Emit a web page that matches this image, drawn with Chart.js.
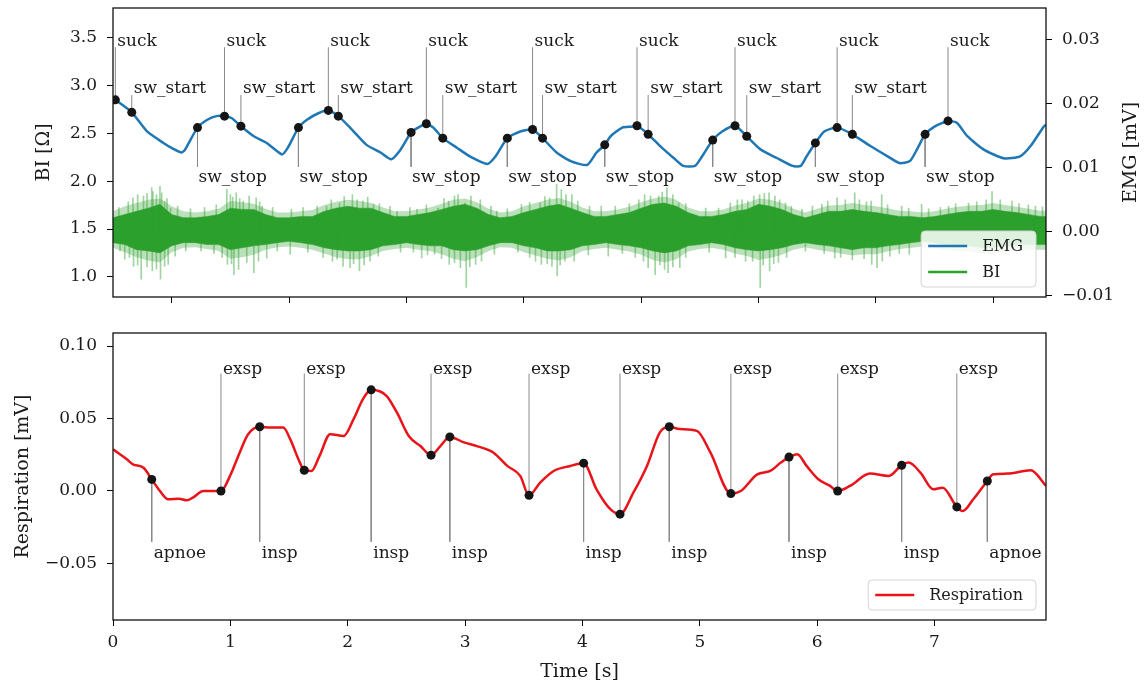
<!DOCTYPE html>
<html>
<head>
<meta charset="utf-8">
<script src="https://cdn.jsdelivr.net/npm/chart.js@4.4.1/dist/chart.umd.min.js"></script>
<style>
  body { margin: 0; background: #fff; }
  #wrap { position: relative; width: 1145px; height: 686px; }
  canvas { position: absolute; left: 0; }
  #topChart { top: 0; }
  #bottomChart { top: 310px; }
</style>
</head>
<body>
<div id="wrap">
  <canvas id="topChart" width="1145" height="310"></canvas>
  <canvas id="bottomChart" width="1145" height="376"></canvas>
</div>
<script>
// ---- values ----
const timeTicks = [0, 1, 2, 3, 4, 5, 6, 7];
const biTicks = [1.0, 1.5, 2.0, 2.5, 3.0, 3.5];
const emgTicks = [-0.01, 0.00, 0.01, 0.02, 0.03];
const respTicks = [-0.05, 0.00, 0.05, 0.10];

// slow blue curve (left axis, Ohm)
const biTime = [0, 0.02, 0.16, 0.29, 0.43, 0.51, 0.585, 0.614, 0.72, 0.80, 0.88, 0.95, 1.01, 1.09, 1.20, 1.31, 1.44, 1.49,
  1.58, 1.65, 1.75, 1.835, 1.92, 2.02, 2.16, 2.28, 2.37, 2.45, 2.54, 2.60, 2.67, 2.73, 2.81, 2.93, 3.04, 3.19, 3.26,
  3.36, 3.47, 3.575, 3.66, 3.78, 3.90, 4.04, 4.12, 4.19, 4.24, 4.34, 4.42, 4.465, 4.56, 4.66, 4.78, 4.86, 4.96, 5.02,
  5.11, 5.19, 5.30, 5.40, 5.52, 5.66, 5.79, 5.86, 5.91, 5.985, 6.06, 6.17, 6.30, 6.45, 6.60, 6.70, 6.79, 6.85, 6.92,
  7.00, 7.115, 7.19, 7.28, 7.42, 7.59, 7.73, 7.82, 7.93, 7.95];
const biValue = [2.87, 2.85, 2.72, 2.52, 2.40, 2.34, 2.30, 2.33, 2.56, 2.64, 2.68, 2.68, 2.66, 2.575, 2.47, 2.40, 2.28, 2.35,
  2.56, 2.64, 2.71, 2.74, 2.68, 2.56, 2.38, 2.30, 2.23, 2.33, 2.51, 2.56, 2.60, 2.56, 2.45, 2.35, 2.26, 2.18, 2.26,
  2.45, 2.52, 2.54, 2.45, 2.30, 2.21, 2.17, 2.30, 2.38, 2.47, 2.56, 2.57, 2.58, 2.49, 2.37, 2.24, 2.16, 2.16, 2.26,
  2.43, 2.52, 2.58, 2.47, 2.33, 2.24, 2.16, 2.16, 2.26, 2.40, 2.52, 2.56, 2.49, 2.37, 2.26, 2.19, 2.21, 2.33, 2.49,
  2.57, 2.63, 2.61, 2.47, 2.33, 2.24, 2.26, 2.37, 2.57, 2.59];

// dense green trace (right axis, mV): envelopes every 0.1 s plus individual spikes
const emgBinTime = [0.0, 0.1, 0.2, 0.3, 0.4, 0.5, 0.6, 0.7, 0.8, 0.9, 1.0, 1.1, 1.2, 1.3, 1.4, 1.5, 1.6, 1.7, 1.8, 1.9,
  2.0, 2.1, 2.2, 2.3, 2.4, 2.5, 2.6, 2.7, 2.8, 2.9, 3.0, 3.1, 3.2, 3.3, 3.4, 3.5, 3.6, 3.7, 3.8, 3.9,
  4.0, 4.1, 4.2, 4.3, 4.4, 4.5, 4.6, 4.7, 4.8, 4.9, 5.0, 5.1, 5.2, 5.3, 5.4, 5.5, 5.6, 5.7, 5.8, 5.9,
  6.0, 6.1, 6.2, 6.3, 6.4, 6.5, 6.6, 6.7, 6.8, 6.9, 7.0, 7.1, 7.2, 7.3, 7.4, 7.5, 7.6, 7.7, 7.8, 7.9, 7.95];
const emgHi = [0.0022, 0.0027, 0.0032, 0.0037, 0.0043, 0.0027, 0.0022, 0.0022, 0.0024, 0.0027,
  0.0037, 0.0035, 0.0035, 0.0027, 0.0022, 0.0022, 0.0024, 0.0024, 0.0032, 0.0037,
  0.0040, 0.0037, 0.0037, 0.0030, 0.0024, 0.0024, 0.0027, 0.0030, 0.0035, 0.0040,
  0.0043, 0.0037, 0.0027, 0.0022, 0.0024, 0.0030, 0.0035, 0.0040, 0.0043, 0.0037,
  0.0030, 0.0024, 0.0024, 0.0027, 0.0030, 0.0037, 0.0043, 0.0045, 0.0040, 0.0030,
  0.0024, 0.0024, 0.0027, 0.0032, 0.0035, 0.0043, 0.0040, 0.0035, 0.0027, 0.0022,
  0.0027, 0.0032, 0.0032, 0.0035, 0.0032, 0.0030, 0.0027, 0.0024, 0.0024, 0.0022,
  0.0024, 0.0027, 0.0030, 0.0032, 0.0032, 0.0035, 0.0032, 0.0030, 0.0027, 0.0024, 0.0024];
const emgLo = [-0.0017, -0.0020, -0.0028, -0.0030, -0.0033, -0.0022, -0.0017, -0.0017, -0.0020, -0.0020,
  -0.0028, -0.0025, -0.0022, -0.0020, -0.0017, -0.0015, -0.0017, -0.0020, -0.0025, -0.0028,
  -0.0030, -0.0030, -0.0028, -0.0022, -0.0020, -0.0017, -0.0020, -0.0022, -0.0022, -0.0028,
  -0.0030, -0.0028, -0.0022, -0.0017, -0.0017, -0.0022, -0.0025, -0.0030, -0.0030, -0.0028,
  -0.0022, -0.0020, -0.0017, -0.0020, -0.0022, -0.0025, -0.0030, -0.0033, -0.0030, -0.0022,
  -0.0020, -0.0017, -0.0020, -0.0025, -0.0028, -0.0030, -0.0028, -0.0025, -0.0020, -0.0017,
  -0.0020, -0.0022, -0.0025, -0.0028, -0.0025, -0.0025, -0.0022, -0.0020, -0.0017, -0.0015,
  -0.0017, -0.0020, -0.0022, -0.0022, -0.0025, -0.0025, -0.0022, -0.0022, -0.0020, -0.0020, -0.0020];
// lighter fringe around the dense core
const emgFringeHi = [0.0032, 0.0040, 0.0045, 0.0050, 0.0052, 0.0040, 0.0032, 0.0030, 0.0032, 0.0036,
  0.0048, 0.0046, 0.0044, 0.0036, 0.0030, 0.0030, 0.0032, 0.0034, 0.0042, 0.0047,
  0.0050, 0.0048, 0.0045, 0.0038, 0.0032, 0.0032, 0.0035, 0.0038, 0.0044, 0.0050,
  0.0052, 0.0046, 0.0036, 0.0030, 0.0032, 0.0040, 0.0045, 0.0050, 0.0053, 0.0047,
  0.0038, 0.0032, 0.0032, 0.0035, 0.0039, 0.0046, 0.0052, 0.0055, 0.0050, 0.0038,
  0.0032, 0.0032, 0.0035, 0.0041, 0.0045, 0.0052, 0.0050, 0.0045, 0.0036, 0.0030,
  0.0036, 0.0041, 0.0042, 0.0045, 0.0042, 0.0040, 0.0037, 0.0033, 0.0032, 0.0030,
  0.0032, 0.0036, 0.0039, 0.0041, 0.0042, 0.0045, 0.0042, 0.0039, 0.0036, 0.0033, 0.0033];
const emgFringeLo = [-0.0025, -0.0032, -0.0040, -0.0045, -0.0048, -0.0032, -0.0025, -0.0024, -0.0027, -0.0030,
  -0.0042, -0.0040, -0.0036, -0.0028, -0.0024, -0.0023, -0.0025, -0.0028, -0.0034, -0.0040,
  -0.0043, -0.0043, -0.0038, -0.0030, -0.0027, -0.0025, -0.0028, -0.0030, -0.0035, -0.0042,
  -0.0046, -0.0040, -0.0030, -0.0024, -0.0025, -0.0032, -0.0037, -0.0042, -0.0045, -0.0040,
  -0.0030, -0.0027, -0.0025, -0.0028, -0.0031, -0.0036, -0.0044, -0.0048, -0.0043, -0.0031,
  -0.0027, -0.0025, -0.0028, -0.0034, -0.0038, -0.0044, -0.0041, -0.0036, -0.0028, -0.0024,
  -0.0028, -0.0031, -0.0034, -0.0037, -0.0035, -0.0035, -0.0031, -0.0027, -0.0025, -0.0023,
  -0.0025, -0.0028, -0.0030, -0.0031, -0.0034, -0.0035, -0.0031, -0.0030, -0.0028, -0.0028, -0.0028];
const emgSpikeTime = [0.17, 0.26, 0.33, 0.34, 0.40, 0.415, 0.44, 0.49, 0.97, 1.00, 1.05, 1.11, 1.22, 1.27, 1.52,
  1.82, 1.93, 2.08, 2.13, 2.22, 2.42, 2.59, 2.77, 2.86, 2.94, 3.00, 3.27, 3.48, 3.64, 3.72, 3.78, 3.82, 3.91,
  4.16, 4.48, 4.53, 4.65, 4.72, 4.82, 5.16, 5.32, 5.41, 5.51, 5.59, 5.64, 5.73, 5.87, 6.04, 6.17, 6.32, 6.46,
  6.55, 6.78, 6.89, 7.12, 7.29, 7.49, 7.66, 7.86,
  0.05, 0.13, 0.21, 0.29, 0.37, 0.46, 0.55, 0.66, 0.78, 0.88, 1.02, 1.08, 1.16, 1.25, 1.36, 1.62, 1.74, 1.86,
  1.97, 2.04, 2.17, 2.27, 2.36, 2.53, 2.67, 2.82, 2.91, 3.05, 3.13, 3.22, 3.36, 3.55, 3.68, 3.86, 3.96, 4.06,
  4.28, 4.40, 4.58, 4.68, 4.77, 4.88, 5.05, 5.26, 5.36, 5.46, 5.55, 5.68, 5.78, 5.96, 6.09, 6.24, 6.36, 6.42,
  6.60, 6.72, 6.95, 7.05, 7.18, 7.36, 7.44, 7.56, 7.72, 7.80, 7.92,
  0.10, 0.175, 0.24, 0.335, 0.405, 0.47, 0.975, 1.03, 1.07, 1.20, 1.31, 1.51, 1.91, 1.96, 2.02, 2.10, 2.19,
  2.63, 2.74, 2.865, 2.96, 3.01, 3.09, 3.60, 3.65, 3.74, 3.785, 3.85, 4.22, 4.56, 4.62, 4.70, 4.73, 4.83,
  5.22, 5.39, 5.515, 5.595, 5.67, 6.15, 6.465, 6.51, 6.555, 6.785,
  0.06, 0.14, 0.21, 0.29, 0.37, 0.44, 0.53, 0.62, 0.75, 0.86, 0.93, 1.01, 1.14, 1.24, 1.40, 1.66, 1.79, 1.87,
  2.05, 2.14, 2.26, 2.45, 2.56, 2.68, 2.80, 2.91, 3.04, 3.14, 3.25, 3.45, 3.55, 3.70, 3.81, 3.93, 4.05, 4.34,
  4.45, 4.52, 4.66, 4.77, 4.88, 5.08, 5.30, 5.45, 5.54, 5.63, 5.74, 5.90, 6.06, 6.20, 6.30, 6.40, 6.62, 6.70];
const emgSpikeValue = [0.0053, 0.0056, 0.0069, 0.0063, 0.0071, 0.0061, 0.0048, 0.0037, 0.0066, 0.0058, 0.0061,
  0.0048, 0.0053, 0.0040, 0.0035, 0.0040, 0.0045, 0.0050, 0.0048, 0.0043, 0.0032, 0.0035, 0.0037, 0.0048,
  0.0058, 0.0045, 0.0032, 0.0043, 0.0045, 0.0053, 0.0074, 0.0066, 0.0058, 0.0040, 0.0050, 0.0058, 0.0056,
  0.0069, 0.0045, 0.0037, 0.0050, 0.0048, 0.0058, 0.0061, 0.0056, 0.0045, 0.0035, 0.0043, 0.0053, 0.0061,
  0.0048, 0.0058, 0.0037, 0.0043, 0.0040, 0.0045, 0.0063, 0.0048, 0.0040,
  0.0038, 0.0047, 0.0058, 0.0060, 0.0058, 0.0052, 0.0040, 0.0036, 0.0038, 0.0042, 0.0054, 0.0052, 0.0056,
  0.0047, 0.0038, 0.0038, 0.0040, 0.0050, 0.0055, 0.0058, 0.0054, 0.0044, 0.0040, 0.0038, 0.0042, 0.0052,
  0.0056, 0.0056, 0.0050, 0.0040, 0.0036, 0.0046, 0.0055, 0.0058, 0.0048, 0.0040, 0.0040, 0.0044, 0.0056,
  0.0062, 0.0058, 0.0044, 0.0037, 0.0045, 0.0050, 0.0056, 0.0060, 0.0050, 0.0040, 0.0040, 0.0048, 0.0050,
  0.0050, 0.0047, 0.0042, 0.0040, 0.0036, 0.0038, 0.0044, 0.0047, 0.0050, 0.0050, 0.0044, 0.0042, 0.0039,
  -0.0043, -0.0054, -0.0074, -0.0061, -0.0074, -0.0051, -0.0051, -0.0067, -0.0059, -0.0064, -0.0041, -0.0035,
  -0.0043, -0.0054, -0.0056, -0.0061, -0.0046, -0.0041, -0.0035, -0.0051, -0.0056, -0.0087, -0.0051, -0.0046,
  -0.0051, -0.0054, -0.0069, -0.0046, -0.0038, -0.0056, -0.0067, -0.0059, -0.0064, -0.0056, -0.0041, -0.0046,
  -0.0087, -0.0061, -0.0048, -0.0041, -0.0051, -0.0056, -0.0046, -0.0035,
  -0.0030, -0.0040, -0.0052, -0.0055, -0.0058, -0.0054, -0.0038, -0.0030, -0.0030, -0.0034, -0.0040, -0.0050,
  -0.0048, -0.0046, -0.0030, -0.0032, -0.0040, -0.0046, -0.0050, -0.0052, -0.0038, -0.0032, -0.0032, -0.0036,
  -0.0042, -0.0048, -0.0055, -0.0046, -0.0035, -0.0032, -0.0040, -0.0050, -0.0052, -0.0046, -0.0036, -0.0034,
  -0.0040, -0.0046, -0.0052, -0.0055, -0.0040, -0.0032, -0.0040, -0.0046, -0.0052, -0.0050, -0.0040, -0.0030,
  -0.0034, -0.0040, -0.0044, -0.0042, -0.0038, -0.0034];

// swallowing events on the blue curve
const suckTimes = [0.02, 0.95, 1.835, 2.67, 3.575, 4.465, 5.30, 6.17, 7.115];
const swStartTimes = [0.16, 1.09, 1.92, 2.81, 3.66, 4.56, 5.40, 6.30];
const swStopTimes = [0.72, 1.58, 2.54, 3.36, 4.19, 5.11, 5.985, 6.92];

// respiration (mV)
const respTime = [0, 0.115, 0.17, 0.26, 0.33, 0.40, 0.47, 0.56, 0.63, 0.68, 0.77, 0.85, 0.92, 0.997, 1.08, 1.15,
  1.25, 1.34, 1.45, 1.51, 1.58, 1.63, 1.69, 1.76, 1.85, 1.965, 2.05, 2.13, 2.20, 2.33, 2.42, 2.52, 2.62, 2.71,
  2.79, 2.87, 2.99, 3.10, 3.24, 3.36, 3.47, 3.545, 3.64, 3.755, 3.896, 4.01, 4.12, 4.24, 4.32, 4.435, 4.55,
  4.66, 4.74, 4.83, 4.975, 5.09, 5.265, 5.35, 5.49, 5.60, 5.69, 5.76, 5.83, 5.91, 6.01, 6.11, 6.175, 6.28,
  6.45, 6.61, 6.72, 6.78, 6.88, 6.99, 7.07, 7.19, 7.24, 7.33, 7.45, 7.50, 7.62, 7.82, 7.95];
const respValue = [0.0288, 0.0220, 0.0184, 0.0160, 0.0080, 0.0000, -0.0057, -0.0053, -0.0064, -0.0046, 0.0000,
  0.0000, 0.0000, 0.0104, 0.0266, 0.0390, 0.0443, 0.0438, 0.0438, 0.0358, 0.0219, 0.0143, 0.0138, 0.0242,
  0.0392, 0.0380, 0.0496, 0.0634, 0.0698, 0.0657, 0.0540, 0.0380, 0.0310, 0.0247, 0.0310, 0.0373, 0.0335,
  0.0310, 0.0266, 0.0173, 0.0104, -0.0030, 0.0058, 0.0138, 0.0173, 0.0192, 0.0012, -0.0127, -0.0160,
  -0.0010, 0.0173, 0.0404, 0.0443, 0.0427, 0.0415, 0.0266, -0.0018, 0.0000, 0.0115, 0.0138, 0.0196, 0.0234,
  0.0254, 0.0173, 0.0081, 0.0035, 0.0000, 0.0035, 0.0120, 0.0104, 0.0178, 0.0196, 0.0127, 0.0012, 0.0023,
  -0.0110, -0.0138, -0.0057, 0.0069, 0.0115, 0.0120, 0.0143, 0.0035];

const exspTimes = [0.92, 1.63, 2.71, 3.545, 4.32, 5.265, 6.175, 7.19];
const inspTimes = [1.25, 2.20, 2.87, 4.01, 4.74, 5.76, 6.72];
const apnoeTimes = [0.33, 7.45];

// ---- helpers ----
const FONT = "'DejaVu Serif', serif";
Chart.defaults.font.family = FONT;
Chart.defaults.color = '#1a1a1a';

const pts = (xs, ys) => xs.map((x, i) => ({ x: x, y: ys[i] }));
const valueAt = (xs, ys, t) => ys[xs.indexOf(t)];
const dots = (times, xs, ys) => times.map(t => ({ x: t, y: valueAt(xs, ys, t) }));
function stems(times, xs, ys, level) {
  const out = [];
  times.forEach(t => out.push({ x: t, y: valueAt(xs, ys, t) }, { x: t, y: level }, { x: t, y: null }));
  return out;
}
const fmt = d => v => (v < 0 ? '\u2212' : '') + Math.abs(v).toFixed(d);
const setTicks = list => scale => { scale.ticks = list.map(v => ({ value: v })); };
// fix axis box sizes so both panels share the same plot area edges
const fixBox = (w, h) => s => {
  if (w !== null) s.width = w;
  if (h !== null) s.height = h;
  s.paddingTop = 0; s.paddingBottom = 0; s.paddingLeft = 0; s.paddingRight = 0;
};
const tickGrid = { drawOnChartArea: false, drawTicks: true, tickLength: 6, color: '#000', lineWidth: 1 };

const framePlugin = {
  id: 'frame',
  afterDatasetsDraw(chart) {
    const { ctx, chartArea: a } = chart;
    ctx.save();
    ctx.strokeStyle = '#111';
    ctx.lineWidth = 1.3;
    ctx.strokeRect(a.left, a.top, a.right - a.left, a.bottom - a.top);
    ctx.restore();
  }
};

const eventLabelPlugin = {
  id: 'eventLabels',
  afterDatasetsDraw(chart, args, opts) {
    const { ctx, chartArea: a } = chart;
    const xs = chart.scales.x;
    ctx.save();
    ctx.beginPath();
    ctx.rect(a.left, a.top, a.right - a.left, a.bottom - a.top);
    ctx.clip();
    ctx.font = '17px ' + FONT;
    ctx.fillStyle = '#1a1a1a';
    ctx.textAlign = 'left';
    opts.groups.forEach(g => {
      const y = chart.scales[g.axis].getPixelForValue(g.level);
      ctx.textBaseline = g.baseline;
      g.times.forEach(t => ctx.fillText(g.text, xs.getPixelForValue(t) + g.dx, y + g.dy));
    });
    ctx.restore();
  }
};

const boxLegendPlugin = {
  id: 'boxLegend',
  afterDraw(chart, args, opts) {
    const { ctx, chartArea: a } = chart;
    const items = chart.data.datasets.filter(d => d.legendColor);
    ctx.save();
    ctx.font = '16px ' + FONT;
    const textW = Math.max(...items.map(d => ctx.measureText(d.label).width));
    const w = 61 + textW + 13, h = 30 + (items.length - 1) * 26;
    const x0 = a.right - 10 - w, y0 = a.bottom - 10 - h;
    ctx.beginPath();
    ctx.roundRect(x0, y0, w, h, 4);
    ctx.fillStyle = 'rgba(255,255,255,0.85)';
    ctx.fill();
    ctx.strokeStyle = '#d4d4d4';
    ctx.lineWidth = 1;
    ctx.stroke();
    items.forEach((d, i) => {
      const y = y0 + 15 + i * 26;
      ctx.strokeStyle = d.legendColor;
      ctx.lineWidth = 2.5;
      ctx.beginPath();
      ctx.moveTo(x0 + 7, y);
      ctx.lineTo(x0 + 46, y);
      ctx.stroke();
      ctx.fillStyle = '#1a1a1a';
      ctx.textBaseline = 'middle';
      ctx.fillText(d.label, x0 + 61, y + 1);
    });
    ctx.restore();
  }
};

const sideTitlePlugin = {
  id: 'sideTitle',
  afterDraw(chart, args, opts) {
    if (!opts.text) return;
    const { ctx, chartArea: a } = chart;
    ctx.save();
    ctx.translate(opts.x, (a.top + a.bottom) / 2);
    ctx.rotate(-Math.PI / 2);
    ctx.font = '19px ' + FONT;
    ctx.fillStyle = '#1a1a1a';
    ctx.textAlign = 'center';
    ctx.textBaseline = 'middle';
    ctx.fillText(opts.text, 0, 0);
    ctx.restore();
  }
};

// ---- top panel: BI curve + EMG trace ----
new Chart(document.getElementById('topChart'), {
  type: 'line',
  data: {
    datasets: [
      { label: 'events', type: 'scatter', yAxisID: 'y', order: 0,
        data: dots(suckTimes, biTime, biValue).concat(dots(swStartTimes, biTime, biValue), dots(swStopTimes, biTime, biValue)),
        pointRadius: 4.5, backgroundColor: '#151515', borderWidth: 0 },
      { label: 'EMG', yAxisID: 'y', order: 1, legendColor: '#1f77b4',
        data: pts(biTime, biValue), borderColor: '#1f77b4', borderWidth: 2.5, pointRadius: 0, tension: 0.2 },
      { label: 'stems', yAxisID: 'y', order: 2,
        data: stems(suckTimes, biTime, biValue, 3.40).concat(stems(swStartTimes, biTime, biValue, 2.90), stems(swStopTimes, biTime, biValue, 2.15)),
        borderColor: '#8a8a8a', borderWidth: 1, pointRadius: 0, spanGaps: false },
      { label: 'BI', type: 'bar', yAxisID: 'y2', order: 3, legendColor: '#2ca02c',
        data: emgSpikeTime.map((t, i) => ({ x: t, y: [0, emgSpikeValue[i]] })),
        backgroundColor: 'rgba(44,160,44,0.45)', barThickness: 1, grouped: false },
      { label: 'emg core', yAxisID: 'y2', order: 4,
        data: pts(emgBinTime, emgHi), borderColor: 'rgba(44,160,44,0.5)', borderWidth: 1, pointRadius: 0,
        backgroundColor: '#2ca02c', fill: '+1' },
      { label: 'emg core low', yAxisID: 'y2', order: 5,
        data: pts(emgBinTime, emgLo), borderColor: 'rgba(44,160,44,0.5)', borderWidth: 1, pointRadius: 0, fill: false },
      { label: 'emg fringe', yAxisID: 'y2', order: 6,
        data: pts(emgBinTime, emgFringeHi), borderColor: 'rgba(44,160,44,0)', borderWidth: 0, pointRadius: 0,
        backgroundColor: 'rgba(44,160,44,0.32)', fill: '+1' },
      { label: 'emg fringe low', yAxisID: 'y2', order: 7,
        data: pts(emgBinTime, emgFringeLo), borderColor: 'rgba(44,160,44,0)', borderWidth: 0, pointRadius: 0, fill: false }
    ]
  },
  options: {
    responsive: false,
    animation: false,
    devicePixelRatio: 1,
    events: [],
    layout: { padding: { top: 8, left: 0, right: 0, bottom: 0 } },
    plugins: {
      legend: { display: false },
      tooltip: { enabled: false },
      eventLabels: { groups: [
        { times: suckTimes, axis: 'y', level: 3.40, text: 'suck', baseline: 'alphabetic', dx: 2, dy: -1 },
        { times: swStartTimes, axis: 'y', level: 2.90, text: 'sw_start', baseline: 'alphabetic', dx: 2, dy: -2 },
        { times: swStopTimes, axis: 'y', level: 2.15, text: 'sw_stop', baseline: 'top', dx: 1, dy: 2 }
      ] },
      sideTitle: { text: 'EMG [mV]', x: 1131 }
    },
    scales: {
      x: { type: 'linear', min: 0, max: 7.95, offset: false,
        afterBuildTicks: setTicks(timeTicks), afterFit: fixBox(null, 13),
        ticks: { display: false }, grid: tickGrid, border: { display: false } },
      y: { type: 'linear', position: 'left', min: 0.79, max: 3.81,
        afterBuildTicks: setTicks(biTicks), afterFit: fixBox(113, null),
        ticks: { padding: 10, font: { size: 17 }, callback: fmt(1) }, grid: tickGrid, border: { display: false },
        title: { display: true, text: 'BI [\u03a9]', font: { size: 19 }, padding: { top: 33, bottom: 0 } } },
      y2: { type: 'linear', position: 'right', min: -0.0102, max: 0.035,
        afterBuildTicks: setTicks(emgTicks), afterFit: fixBox(99, null),
        ticks: { padding: 10, font: { size: 17 }, callback: fmt(2) }, grid: tickGrid, border: { display: false } }
    }
  },
  plugins: [framePlugin, eventLabelPlugin, boxLegendPlugin, sideTitlePlugin]
});

// ---- bottom panel: respiration ----
new Chart(document.getElementById('bottomChart'), {
  type: 'line',
  data: {
    datasets: [
      { label: 'events', type: 'scatter', order: 0,
        data: dots(exspTimes, respTime, respValue).concat(dots(inspTimes, respTime, respValue), dots(apnoeTimes, respTime, respValue)),
        pointRadius: 4.5, backgroundColor: '#151515', borderWidth: 0 },
      { label: 'Respiration', order: 1, legendColor: '#e8141a',
        data: pts(respTime, respValue), borderColor: '#e8141a', borderWidth: 2.5, pointRadius: 0,
        cubicInterpolationMode: 'monotone' },
      { label: 'stems', order: 2,
        data: stems(exspTimes, respTime, respValue, 0.081).concat(stems(inspTimes, respTime, respValue, -0.035), stems(apnoeTimes, respTime, respValue, -0.035)),
        borderColor: '#8a8a8a', borderWidth: 1, pointRadius: 0, spanGaps: false }
    ]
  },
  options: {
    responsive: false,
    animation: false,
    devicePixelRatio: 1,
    events: [],
    layout: { padding: { top: 23, left: 0, right: 99, bottom: 0 } },
    plugins: {
      legend: { display: false },
      tooltip: { enabled: false },
      eventLabels: { groups: [
        { times: exspTimes, axis: 'y', level: 0.081, text: 'exsp', baseline: 'alphabetic', dx: 2, dy: 0 },
        { times: inspTimes, axis: 'y', level: -0.035, text: 'insp', baseline: 'top', dx: 2, dy: 3 },
        { times: apnoeTimes, axis: 'y', level: -0.035, text: 'apnoe', baseline: 'top', dx: 2, dy: 3 }
      ] },
      sideTitle: { text: '' }
    },
    scales: {
      x: { type: 'linear', min: 0, max: 7.95, offset: false,
        afterBuildTicks: setTicks(timeTicks), afterFit: fixBox(null, 66),
        ticks: { padding: 6, font: { size: 17 }, callback: v => String(v) }, grid: tickGrid, border: { display: false },
        title: { display: true, text: 'Time [s]', font: { size: 19 }, padding: { top: 0, bottom: 3 } } },
      y: { type: 'linear', position: 'left', min: -0.089, max: 0.109,
        afterBuildTicks: setTicks(respTicks), afterFit: fixBox(113, null),
        ticks: { padding: 10, font: { size: 17 }, callback: fmt(2) }, grid: tickGrid, border: { display: false },
        title: { display: true, text: 'Respiration [mV]', font: { size: 19 }, padding: { top: 12, bottom: 0 } } }
    }
  },
  plugins: [framePlugin, eventLabelPlugin, boxLegendPlugin, sideTitlePlugin]
});
</script>
</body>
</html>
